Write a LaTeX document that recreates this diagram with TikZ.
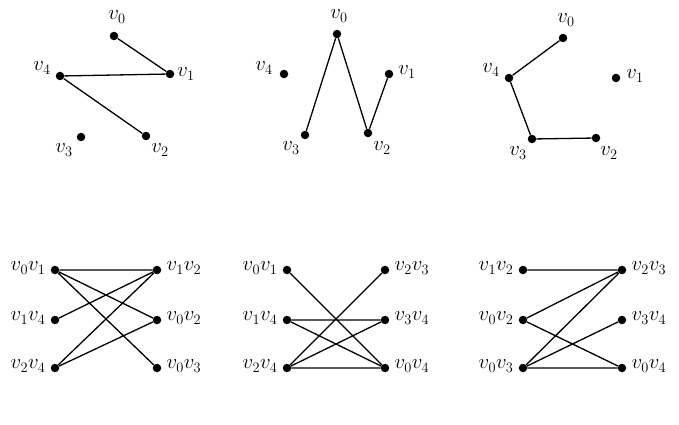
\documentclass[tikz,border=0pt]{standalone}
\begin{document}
\begin{tikzpicture}[x=1pt,y=-1pt,
 dot/.style={circle,fill=black,inner sep=0pt,minimum size=8.5pt},
 lab/.style={font=\fontsize{22}{24}\selectfont},
 e/.style={line width=1.3pt}]
\useasboundingbox (0,0) rectangle (679,425);
% graph 1
\node[dot] (a0) at (114,36) {}; \node[dot] (a1) at (170,74) {}; \node[dot] (a4) at (60,76) {};
\node[dot] (a3) at (81,137) {}; \node[dot] (a2) at (146,136) {};
\node[lab] at (117,17) {$v_0$}; \node[lab] at (186,74) {$v_1$}; \node[lab] at (42,68) {$v_4$};
\node[lab] at (64,150) {$v_3$}; \node[lab] at (160,150) {$v_2$};
\draw[e] (a0)--(a1) (a4)--(a1) (a4)--(a2);
% graph 2
\node[dot] (b0) at (337,34) {}; \node[dot] (b1) at (389,74) {}; \node[dot] (b4) at (284,74) {};
\node[dot] (b3) at (305,135) {}; \node[dot] (b2) at (368,133) {};
\node[lab] at (339,16) {$v_0$}; \node[lab] at (407,72) {$v_1$}; \node[lab] at (264,68) {$v_4$};
\node[lab] at (291,148) {$v_3$}; \node[lab] at (382,148) {$v_2$};
\draw[e] (b3)--(b0)--(b2)--(b1);
% graph 3
\node[dot] (c0) at (563,38) {}; \node[dot] (c1) at (616,78) {}; \node[dot] (c4) at (509,78) {};
\node[dot] (c3) at (532,139) {}; \node[dot] (c2) at (596,138) {};
\node[lab] at (566,20) {$v_0$}; \node[lab] at (635,76) {$v_1$}; \node[lab] at (491,70) {$v_4$};
\node[lab] at (518,153) {$v_3$}; \node[lab] at (609,153) {$v_2$};
\draw[e] (c0)--(c4)--(c3)--(c2);
% bipartite 1
\foreach \n/\y/\t in {1/270/{v_0v_1},2/320/{v_1v_4},3/368/{v_2v_4}} {
 \node[dot] (dl\n) at (55,\y) {}; \node[lab,anchor=east] at (49,\y-2) {$\t$};}
\foreach \n/\y/\t in {1/270/{v_1v_2},2/320/{v_0v_2},3/368/{v_0v_3}} {
 \node[dot] (dr\n) at (157,\y) {}; \node[lab,anchor=west] at (163,\y-2) {$\t$};}
\draw[e] (dl1)--(dr1) (dl1)--(dr2) (dl1)--(dr3) (dl2)--(dr1) (dl3)--(dr1) (dl3)--(dr2);
% bipartite 2
\foreach \n/\y/\t in {1/270/{v_0v_1},2/320/{v_1v_4},3/368/{v_2v_4}} {
 \node[dot] (el\n) at (287,\y) {}; \node[lab,anchor=east] at (281,\y-2) {$\t$};}
\foreach \n/\y/\t in {1/270/{v_2v_3},2/320/{v_3v_4},3/368/{v_0v_4}} {
 \node[dot] (er\n) at (385,\y) {}; \node[lab,anchor=west] at (391,\y-2) {$\t$};}
\draw[e] (el1)--(er3) (el2)--(er2) (el2)--(er3) (el3)--(er1) (el3)--(er2) (el3)--(er3);
% bipartite 3
\foreach \n/\y/\t in {1/270/{v_1v_2},2/320/{v_0v_2},3/368/{v_0v_3}} {
 \node[dot] (fl\n) at (523,\y) {}; \node[lab,anchor=east] at (517,\y-2) {$\t$};}
\foreach \n/\y/\t in {1/270/{v_2v_3},2/320/{v_3v_4},3/368/{v_0v_4}} {
 \node[dot] (fr\n) at (622,\y) {}; \node[lab,anchor=west] at (628,\y-2) {$\t$};}
\draw[e] (fl1)--(fr1) (fl2)--(fr1) (fl2)--(fr3) (fl3)--(fr1) (fl3)--(fr2) (fl3)--(fr3);
\end{tikzpicture}
\end{document}
